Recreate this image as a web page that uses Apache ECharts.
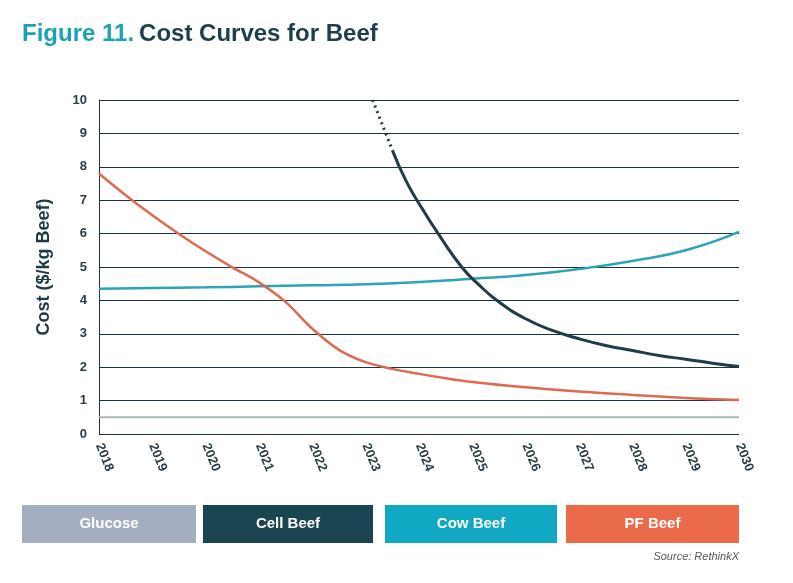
<!DOCTYPE html>
<html><head><meta charset="utf-8">
<script src="https://cdn.jsdelivr.net/npm/echarts@6/dist/echarts.min.js"></script>
<style>html,body{margin:0;padding:0;background:#fff}#c{width:793px;height:583px}</style>
</head><body><div id="c"></div>
<script>
const years = [2018,2019,2020,2021,2022,2023,2024,2025,2026,2027,2028,2029,2030];
const yTicks = [0,1,2,3,4,5,6,7,8,9,10];
const legendNames = ['Glucose','Cell Beef','Cow Beef','PF Beef'];
const glucose = [[2018,0.5],[2030,0.5]];
const cellBeefProjected = [[2023.13,10],[2023.5,8.5]];
const cellBeef = [[2023.5,8.5],[2023.75,7.6],[2024,6.9],[2024.4,5.9],[2024.8,5.0],[2025.1,4.5],[2025.5,3.95],[2026,3.45],[2026.5,3.1],[2027,2.85],[2027.5,2.65],[2028,2.5],[2028.5,2.35],[2029,2.24],[2029.5,2.12],[2030,2.02]];
const cowBeef = [[2018,4.35],[2019,4.37],[2020,4.39],[2021,4.42],[2022,4.45],[2023,4.48],[2024,4.55],[2025,4.65],[2026,4.76],[2027,4.94],[2028,5.18],[2029,5.5],[2030,6.05]];
const pfBeef = [[2018,7.8],[2018.5,7.15],[2019,6.55],[2019.5,5.99],[2020,5.47],[2020.5,4.99],[2021,4.54],[2021.5,3.95],[2022,3.15],[2022.5,2.52],[2023,2.15],[2023.5,1.95],[2024,1.8],[2024.5,1.67],[2025,1.56],[2026,1.4],[2027,1.27],[2028,1.17],[2029,1.08],[2030,1.02]];
const colors = {glucose:'#a3afc0', cell:'#1c4554', cow:'#10a8c2', pf:'#ea6a4a'};
const lineColors = {glucose:'#aab3b6', cell:'#1e3d49', cow:'#2aa4b7', pf:'#de6a4f'};
const navy = '#183540';
const FONT = '"Liberation Sans", Arial, sans-serif';

const chart = echarts.init(document.getElementById('c'));
const legendBoxes = [
  {x:22,w:174,c:colors.glucose},
  {x:203,w:170,c:colors.cell},
  {x:385,w:172,c:colors.cow},
  {x:566,w:173,c:colors.pf}
];
const graphic = legendBoxes.map((b,i)=>({
  type:'group', left:b.x, top:505,
  children:[
    {type:'rect', shape:{x:0,y:0,width:b.w,height:38}, style:{fill:b.c}},
    {type:'text', x:b.w/2, y:19, style:{text:legendNames[i], fill:'#fff', font:'bold 15px ' + FONT, textAlign:'center', textVerticalAlign:'middle'}}
  ]
}));
graphic.push({type:'text', right:54, top:551, style:{text:'Source: RethinkX', fill:'#555', font:'italic 11px ' + FONT, textAlign:'right'}});

chart.setOption({
  animation:false,
  title:{
    left:22, top:22, padding:0,
    text:'{a|Figure 11.} {b|Cost Curves for Beef}',
    textStyle:{rich:{
      a:{color:'#1aa3b6', fontSize:24, fontWeight:'bold', fontFamily:FONT},
      b:{color:'#1d3f4b', fontSize:24, fontWeight:'bold', fontFamily:FONT}
    }}
  },
  graphic: graphic,
  grid:{left:99, right:54, top:100, bottom:149},
  xAxis:{
    type:'value', min:2018, max:2030, interval:1,
    axisLine:{show:false}, axisTick:{show:false}, splitLine:{show:false},
    axisLabel:{rotate:-68, color:'#2a3c45', fontWeight:'bold', fontSize:13, margin:10,
      fontFamily:FONT,
      formatter:v=>years.includes(v)?String(v):''}
  },
  yAxis:{
    type:'value', min:0, max:10, interval:1,
    name:'Cost ($/kg Beef)', nameLocation:'middle', nameGap:46,
    nameTextStyle:{color:'#1d3b46', fontWeight:'bold', fontSize:18, fontFamily:FONT},
    axisLine:{show:true, lineStyle:{color:navy, width:1}},
    axisTick:{show:false},
    splitLine:{show:true, lineStyle:{color:navy, width:1}},
    axisLabel:{color:'#2a3c45', fontWeight:'bold', fontSize:13, margin:12,
      fontFamily:FONT,
      formatter:v=>yTicks.includes(v)?String(v):''}
  },
  series:[
    {name:'Glucose', type:'line', data:glucose, showSymbol:false, lineStyle:{color:lineColors.glucose, width:2}},
    {name:'Cow Beef', type:'line', data:cowBeef, smooth:true, showSymbol:false, lineStyle:{color:lineColors.cow, width:2.5}},
    {name:'PF Beef', type:'line', data:pfBeef, smooth:0.35, showSymbol:false, lineStyle:{color:lineColors.pf, width:2.5}},
    {name:'Cell Beef', type:'line', data:cellBeef, smooth:true, showSymbol:false, lineStyle:{color:lineColors.cell, width:3}},
    {name:'Cell Beef projected', type:'line', data:cellBeefProjected, showSymbol:false, lineStyle:{color:lineColors.cell, width:3, type:[2,4]}}
  ]
});
</script></body></html>
